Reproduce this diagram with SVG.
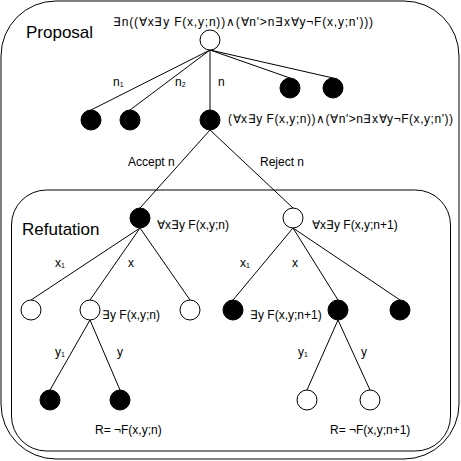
<svg xmlns="http://www.w3.org/2000/svg" width="461" height="461" viewBox="0 0 461 461">
<style>
text{font-family:"Liberation Sans",Arial,sans-serif;font-size:12px;fill:#000}
.title{font-size:17px}
.sub{font-size:7px}
.frame{fill:none;stroke:#000;stroke-width:1}
.e{stroke:#000;stroke-width:1;fill:none}
.w{fill:#fff;stroke:#000;stroke-width:1}
.b{fill:#000;stroke:#000;stroke-width:1}
</style>
<rect class="frame" x="1" y="1" width="458" height="458" rx="55" ry="55"/>
<rect class="frame" x="11.5" y="190" width="439" height="261" rx="35" ry="35"/>
<text class="title" x="26" y="38">Proposal</text>
<text class="title" x="22" y="235">Refutation</text>
<g id="connectors">
<line class="e" x1="210" y1="50" x2="91" y2="110"/>
<line class="e" x1="210" y1="50" x2="130" y2="110"/>
<line class="e" x1="210" y1="50" x2="210" y2="110"/>
<line class="e" x1="210" y1="50" x2="290" y2="78"/>
<line class="e" x1="210" y1="50" x2="333" y2="78"/>
<line class="e" x1="210" y1="130" x2="140" y2="208"/>
<line class="e" x1="210" y1="130" x2="293" y2="208"/>
<line class="e" x1="140" y1="228" x2="31" y2="300"/>
<line class="e" x1="140" y1="228" x2="90" y2="300"/>
<line class="e" x1="140" y1="228" x2="190" y2="300"/>
<line class="e" x1="293" y1="228" x2="233" y2="300"/>
<line class="e" x1="293" y1="228" x2="338" y2="300"/>
<line class="e" x1="293" y1="228" x2="400" y2="300"/>
<line class="e" x1="90" y1="320" x2="50" y2="390"/>
<line class="e" x1="90" y1="320" x2="120" y2="390"/>
<line class="e" x1="338" y1="320" x2="307" y2="390"/>
<line class="e" x1="338" y1="320" x2="370" y2="390"/>
<text x="113" y="86">n<tspan class="sub" dy="1">1</tspan></text>
<text x="175" y="86">n<tspan class="sub" dy="1">2</tspan></text>
<text x="218" y="86">n</text>
<text x="128" y="166">Accept n</text>
<text x="260" y="166">Reject n</text>
<text x="55" y="267">x<tspan class="sub" dy="1">1</tspan></text>
<text x="128" y="267">x</text>
<text x="240" y="267">x<tspan class="sub" dy="1">1</tspan></text>
<text x="292" y="267">x</text>
<text x="55" y="356">y<tspan class="sub" dy="1">1</tspan></text>
<text x="117" y="356">y</text>
<text x="298" y="356">y<tspan class="sub" dy="1">1</tspan></text>
<text x="361" y="356">y</text>
</g>
<g id="root"><circle class="w" cx="210" cy="40" r="10"/><text x="113" y="26" textLength="260" lengthAdjust="spacing">∃n((∀x∃y F(x,y;n))∧(∀n'&gt;n∃x∀y¬F(x,y;n')))</text></g>
<g id="p1"><circle class="b" cx="91" cy="120" r="10"/></g>
<g id="p2"><circle class="b" cx="130" cy="120" r="10"/></g>
<g id="pn"><circle class="b" cx="210" cy="120" r="10"/><text x="228" y="123" textLength="225" lengthAdjust="spacing">(∀x∃y F(x,y;n))∧(∀n'&gt;n∃x∀y¬F(x,y;n'))</text></g>
<g id="p4"><circle class="b" cx="290" cy="88" r="10"/></g>
<g id="p5"><circle class="b" cx="333" cy="88" r="10"/></g>
<g id="accept"><circle class="b" cx="140" cy="218" r="10"/><text x="157" y="229">∀x∃y F(x,y;n)</text></g>
<g id="reject"><circle class="w" cx="293" cy="218" r="10"/><text x="312" y="229">∀x∃y F(x,y;n+1)</text></g>
<g id="a1"><circle class="w" cx="31" cy="310" r="10"/></g>
<g id="ax"><circle class="w" cx="90" cy="310" r="10"/><text x="102" y="319">∃y F(x,y;n)</text></g>
<g id="a3"><circle class="w" cx="190" cy="310" r="10"/></g>
<g id="r1"><circle class="b" cx="233" cy="310" r="10"/></g>
<g id="rx"><circle class="b" cx="338" cy="310" r="10"/><text x="250" y="319">∃y F(x,y;n+1)</text></g>
<g id="r3"><circle class="b" cx="400" cy="310" r="10"/></g>
<g id="ay1"><circle class="b" cx="50" cy="400" r="10"/></g>
<g id="ay"><circle class="b" cx="120" cy="400" r="10"/><text x="95" y="434">R= ¬F(x,y;n)</text></g>
<g id="ry1"><circle class="w" cx="307" cy="400" r="10"/></g>
<g id="ry"><circle class="w" cx="370" cy="400" r="10"/><text x="330" y="434">R= ¬F(x,y;n+1)</text></g>
</svg>
